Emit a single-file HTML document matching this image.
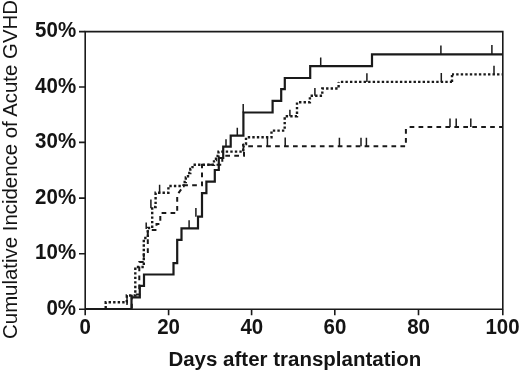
<!DOCTYPE html>
<html><head><meta charset="utf-8"><style>
html,body{margin:0;padding:0;background:#fff;width:520px;height:371px;overflow:hidden}
svg{display:block;filter:grayscale(1)}
text{font-family:"Liberation Sans",sans-serif;fill:#141414}
</style></head><body>
<svg width="520" height="371" viewBox="0 0 520 371">
<g fill="none" stroke="#1a1a1a" stroke-width="1.6" stroke-linecap="butt">
<path d="M85.2,31.6 H502.8 V309.2 M85.2,30.8 V309.2 H502.8"/>
<path d="M79,31.6H85.2 M79,87H85.2 M79,142.4H85.2 M79,198.1H85.2 M79,253.7H85.2 M79,309.2H85.2"/>
<path d="M85.2,309V315.3 M168.6,309V315.3 M251.6,309V315.3 M334.8,309V315.3 M418.5,309V315.3 M502.8,309V315.3"/>
</g>
<g font-weight="bold" font-size="20.5" text-anchor="end">
<text transform="translate(76.1,37.3) scale(1,1.055)">50%</text>
<text transform="translate(76.1,92.7) scale(1,1.055)">40%</text>
<text transform="translate(76.1,148.1) scale(1,1.055)">30%</text>
<text transform="translate(76.1,203.8) scale(1,1.055)">20%</text>
<text transform="translate(76.1,259.4) scale(1,1.055)">10%</text>
<text transform="translate(76.1,314.9) scale(1,1.055)">0%</text>
</g>
<g font-weight="bold" font-size="20.5" text-anchor="middle">
<text transform="translate(85.2,334.2) scale(1,1.05)">0</text>
<text transform="translate(168.6,334.2) scale(1,1.05)">20</text>
<text transform="translate(251.8,334.2) scale(1,1.05)">40</text>
<text transform="translate(334.9,334.2) scale(1,1.05)">60</text>
<text transform="translate(418.6,334.2) scale(1,1.05)">80</text>
<text transform="translate(502.5,334.2) scale(1,1.05)">100</text>
<text transform="translate(294.8,365.7) scale(1,1.03)">Days after transplantation</text>
</g>
<text font-size="20.4" text-anchor="middle" transform="translate(17,169.5) rotate(-90)">Cumulative Incidence of Acute GVHD</text>
<g fill="none" stroke="#1a1a1a" stroke-linejoin="miter" stroke-linecap="butt">
<path stroke-width="2.2" d="M85.2,309 H131.5 V297.3 H139.8 V285.8 H144 V274.5 H173.5 V263.2 H177.2 V239.8 H181.5 V228.3 H198 V216.7 H202 V193.1 H206.4 V181.7 H214.8 V170 H218.8 V158 H223.2 V146.6 H230.7 V135.7 H243.4 V112.5 H272.6 V100.8 H281.2 V89.2 H284.8 V78 H310.2 V66.2 H372 V54.4 H503"/>
<path stroke-width="2.0" stroke-dasharray="4.7 4.25" stroke-dashoffset="0" d="M131.8,308.5 V294.5 H139.3 V262 H143.8 V252 H147.8 V230 H156.5 V224 H160.3 V213 H177.2 V195 L184,185.2 H202 V164.8 H222.3 V155.7 H244 V146.2"/>
<path stroke-width="2.0" stroke-dasharray="4.7 4.25" stroke-dashoffset="4.7" d="M244,146.2 H405.9 V127"/>
<path stroke-width="2.0" stroke-dasharray="4.7 4.25" stroke-dashoffset="5.25" d="M405.9,127 H503"/>
<path stroke-width="2.4" stroke-dasharray="2.4 2.14" stroke-dashoffset="0" d="M105.7,308.5 V302.3 H126.8 V295.5 H135.3 V267 H143.8 V238 H147.8 V228 H152.2 V207 H155.6 V192.8 H168.4 V186 H183.5 V182 H185.8 V177.5 H188 V173 H190.3 V169 H192.5 V164.8 H214 V160 H216 V155.9 H218.5 V151.6 H243.3 V144 H246 V137.3 H271.5 V130.6 H284.7 V116.2 H297 V102.3 H309.9 V95.7 H322.3 V88.5 H338.6 V81.9"/>
<path stroke-width="2.4" stroke-dasharray="2.4 2.14" stroke-dashoffset="2.25" d="M338.6,81.9 H452"/>
<path stroke-width="2.4" stroke-dasharray="2.4 2.14" stroke-dashoffset="0" d="M452,81.9 V74.4"/>
<path stroke-width="2.4" stroke-dasharray="2.4 2.14" stroke-dashoffset="0.35" d="M452,74.4 H503"/>
<path stroke-width="1.5" d="M189.1,220.2V228.3 M195.9,208V216.7 M226,139.2V146.6 M237.3,127.8V135.7 M243.2,104V112.5 M320.7,57.5V66.2 M440.9,45.5V54.4 M491.9,45V54.4 M267.4,137.5V146.2 M285.2,137.5V146.2 M339.4,137.7V146.2 M361,137.7V146.2 M366.4,137.7V146.2 M450,118.5V127 M456.2,118.5V127 M470.8,118.5V127 M243.3,143.5V151.6 M127,295V305 M146.2,222.5V229 M150.9,199.5V208.3 M159.6,184.7V193.5 M289.9,109.8V116.2 M314.9,88V95.7 M366.9,73.3V81.9 M441.3,73V81.9 M494,65.7V74.6"/>
</g>
</svg>
</body></html>
